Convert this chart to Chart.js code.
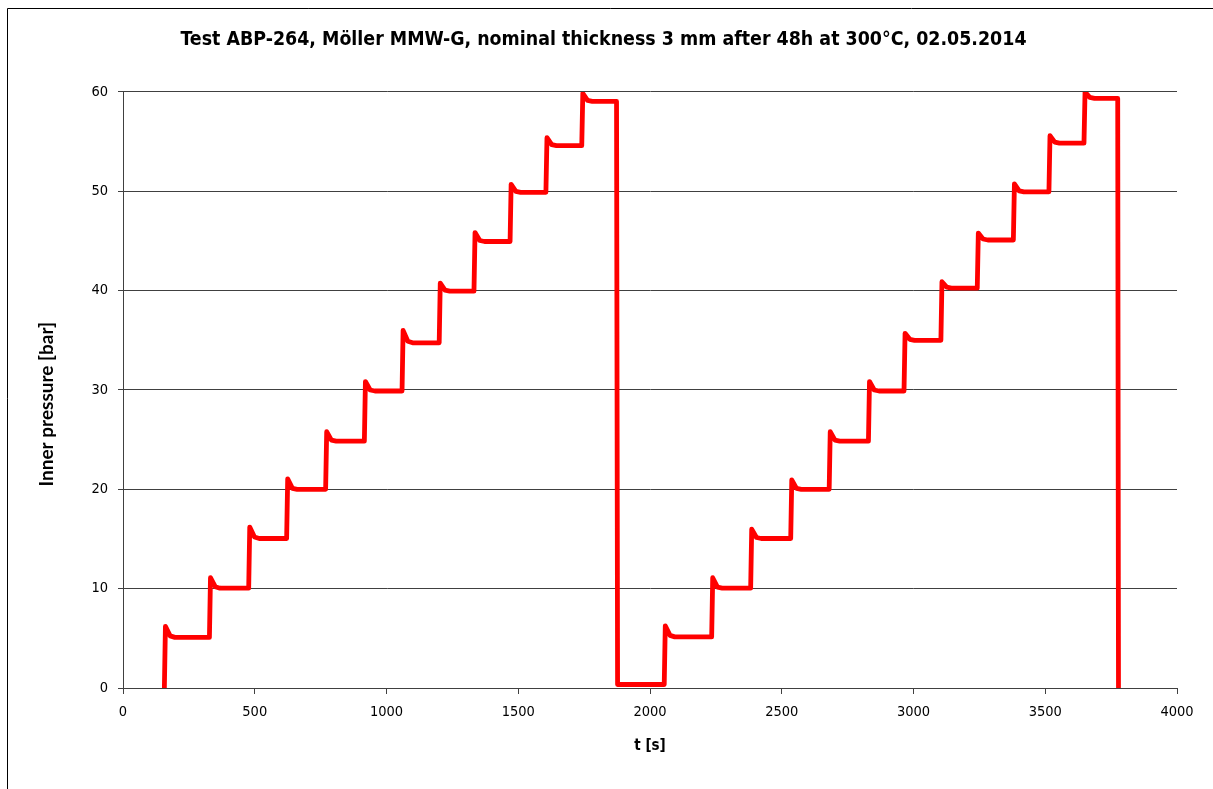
<!DOCTYPE html>
<html>
<head>
<meta charset="utf-8">
<script src="https://cdn.jsdelivr.net/npm/chart.js@4/dist/chart.umd.min.js"></script>
<style>
  html, body { margin: 0; padding: 0; background: #fff; }
  #wrap { width: 1213px; height: 789px; }
</style>
</head>
<body>
<div id="wrap"><canvas id="pressurechart" width="1213" height="789"></canvas></div>
<script>
// pressure steps: t [s] and inner pressure [bar]
const time = [
    157, 161, 179, 197,
    328, 332, 350, 368,
    477, 481, 499, 517,
    621, 625, 643, 661,
    769, 773, 791, 809,
    916, 920, 938, 956,
    1059, 1063, 1081, 1099,
    1200, 1204, 1222, 1240,
    1332, 1336, 1354, 1372,
    1469, 1473, 1491, 1509,
    1605, 1609, 1627, 1645,
    1741, 1745, 1763, 1781,
    1873, 1877,
    2054, 2058, 2076, 2094,
    2234, 2238, 2256, 2274,
    2382, 2386, 2404, 2422,
    2534, 2538, 2556, 2574,
    2680, 2684, 2702, 2720,
    2829, 2833, 2851, 2869,
    2964, 2968, 2986, 3004,
    3104, 3108, 3126, 3144,
    3242, 3246, 3264, 3282,
    3379, 3383, 3401, 3419,
    3514, 3518, 3536, 3554,
    3647, 3651, 3669, 3687,
    3775, 3778];
const pressure = [
    0, 6.2, 5.25, 5.1,
    5.1, 11.1, 10.2, 10.05,
    10.05, 16.2, 15.2, 15.05,
    15.05, 21.05, 20.1, 20.0,
    20.0, 25.8, 24.95, 24.85,
    24.85, 30.85, 30.0, 29.9,
    29.9, 36.0, 34.9, 34.75,
    34.75, 40.75, 40.05, 39.95,
    39.95, 45.85, 45.05, 44.95,
    44.95, 50.7, 50.0, 49.9,
    49.9, 55.4, 54.7, 54.6,
    54.6, 59.85, 59.15, 59.05,
    59.05, 0.35,
    0.35, 6.25, 5.3, 5.15,
    5.15, 11.1, 10.15, 10.05,
    10.05, 16.0, 15.15, 15.05,
    15.05, 20.95, 20.1, 20.0,
    20.0, 25.8, 24.95, 24.85,
    24.85, 30.85, 30.0, 29.9,
    29.9, 35.7, 35.1, 35.0,
    35.0, 40.9, 40.35, 40.25,
    40.25, 45.8, 45.2, 45.1,
    45.1, 50.75, 50.05, 49.95,
    49.95, 55.6, 54.95, 54.85,
    54.85, 60.0, 59.45, 59.35,
    59.35, 0];

const points = time.map((t, i) => ({ x: t, y: pressure[i] }));

const gridColor = "#404040";
const narrowFont = "'Liberation Sans Narrow', 'DejaVu Sans Condensed', Lato";

// white page and the outer frame of the chart object
const framePlugin = {
    id: "frame",
    beforeDraw(chart) {
        const ctx = chart.ctx;
        ctx.save();
        ctx.fillStyle = "#fff";
        ctx.fillRect(0, 0, chart.width, chart.height);
        ctx.strokeStyle = "#000";
        ctx.lineWidth = 1;
        ctx.beginPath();
        ctx.moveTo(7.5, chart.height);
        ctx.lineTo(7.5, 8.5);
        ctx.lineTo(chart.width, 8.5);
        ctx.stroke();
        ctx.restore();
    }
};

new Chart("pressurechart", {
    type: "line",
    data: {
        datasets: [
            {
                label: "Inner pressure",
                data: points,
                borderColor: "#ff0000",
                borderWidth: 4.8,
                borderJoinStyle: "round",
                borderCapStyle: "round",
                pointRadius: 0,
                tension: 0,
                fill: false
            }
        ]
    },
    options: {
        responsive: false,
        animation: false,
        layout: { padding: { left: 30, right: 36, top: 0, bottom: 0 } },
        plugins: {
            legend: { display: false },
            tooltip: { enabled: false },
            title: {
                display: true,
                text: "Test ABP-264, Möller MMW-G, nominal thickness 3 mm after 48h at 300°C, 02.05.2014",
                color: "#000",
                font: { family: narrowFont, size: 19.4, weight: "bold", lineHeight: 1.2 },
                padding: { top: 28, bottom: 40.7 }
            }
        },
        scales: {
            x: {
                type: "linear",
                min: 0,
                max: 4000,
                afterFit(scale) { scale.height = 101; },
                ticks: {
                    stepSize: 500,
                    color: "#000",
                    padding: 10,
                    maxRotation: 0,
                    callback: (v) => String(v),
                    font: { family: narrowFont, size: 14.5 }
                },
                grid: {
                    drawOnChartArea: false,
                    drawTicks: true,
                    tickLength: 6,
                    color: gridColor
                },
                border: { color: gridColor, width: 1 },
                title: {
                    display: true,
                    text: "t [s]",
                    color: "#000",
                    font: { family: narrowFont, size: 15, weight: "bold", lineHeight: 1.2 },
                    padding: { top: 0, bottom: 34 }
                }
            },
            y: {
                min: 0,
                max: 60,
                afterFit(scale) { scale.width = 93; },
                ticks: {
                    stepSize: 10,
                    color: "#000",
                    padding: 10,
                    callback: (v) => String(v),
                    font: { family: narrowFont, size: 14.5 }
                },
                grid: {
                    color: gridColor,
                    lineWidth: 1,
                    drawTicks: true,
                    tickLength: 5
                },
                border: { color: gridColor, width: 1 },
                title: {
                    display: true,
                    text: "Inner pressure [bar]\u2003\u2003",
                    color: "#000",
                    font: { family: "Lato", size: 19, weight: "bold", lineHeight: 1.2 },
                    padding: { top: 5, bottom: 0 }
                }
            }
        }
    },
    plugins: [framePlugin]
});
</script>
</body>
</html>
